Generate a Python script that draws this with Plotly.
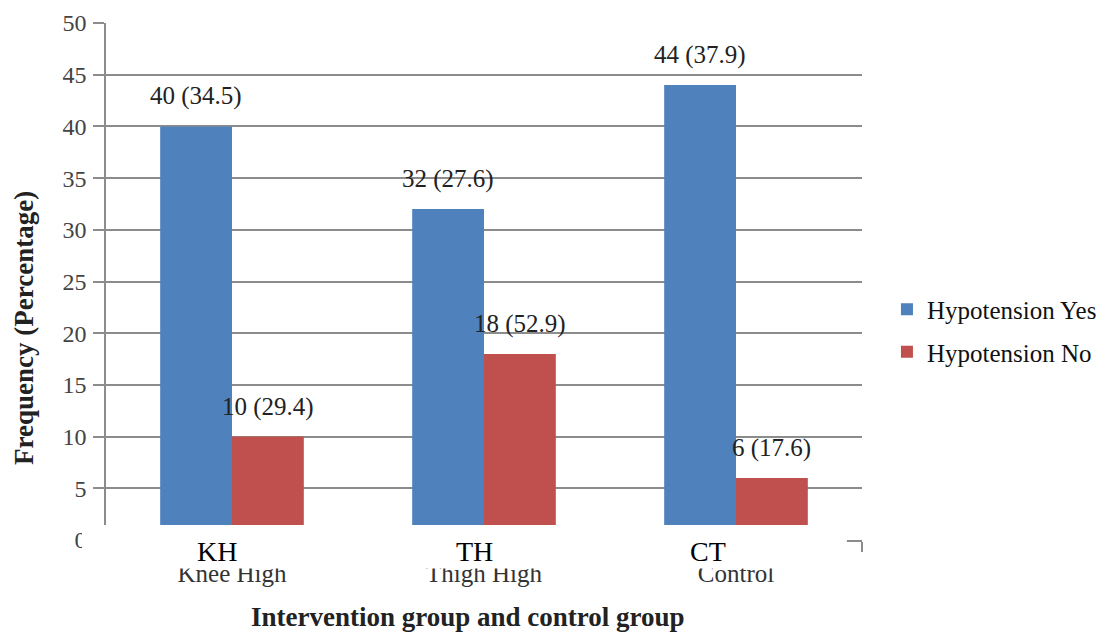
import plotly.graph_objects as go

categories = ["Knee High", "Thigh High", "Control"]
abbreviations = ["KH", "TH", "CT"]
series_names = ["Hypotension Yes", "Hypotension No"]
yes_counts = [40, 32, 44]
yes_pct = [34.5, 27.6, 37.9]
no_counts = [10, 18, 6]
no_pct = [29.4, 52.9, 17.6]
y_ticks = [0, 5, 10, 15, 20, 25, 30, 35, 40, 45, 50]

FONT = "Liberation Serif"
BLUE = "#4F81BD"
RED = "#C0504D"
GRID = "#8C8C8C"

fig = go.Figure()
fig.add_trace(go.Bar(name=series_names[0], x=categories, y=yes_counts, legendgroup="g1",
                     marker=dict(color=BLUE, line=dict(width=0)), offsetgroup="a"))
fig.add_trace(go.Bar(name=series_names[1], x=categories, y=no_counts, legendgroup="g2",
                     marker=dict(color=RED, line=dict(width=0)), offsetgroup="b"))

annotations = []
for vals, pcts, shift in [(yes_counts, yes_pct, -0.1428), (no_counts, no_pct, 0.1428)]:
    for i, (v, p) in enumerate(zip(vals, pcts)):
        annotations.append(dict(x=i + shift, y=v, xref="x", yref="y",
                                text=f"{v} ({p})", showarrow=False,
                                yanchor="bottom", yshift=14,
                                font=dict(family=FONT, size=25, color="#222222")))

# white patch covering the bottom of the chart (as in the reference)
shapes = [dict(type="rect", xref="paper", yref="paper", layer="above",
               x0=-0.0317, x1=0.980, y0=0.029, y1=-0.055,
               fillcolor="white", line=dict(width=0))]

abbr_x = [0.1468, 0.4868, 0.7963]
for ax_, t in zip(abbr_x, abbreviations):
    annotations.append(dict(x=ax_, y=-0.0232, xref="paper", yref="paper",
                            text=t, showarrow=False, xanchor="center", yanchor="middle",
                            font=dict(family=FONT, size=28, color="black")))

annotations.append(dict(x=(468 - 106) / 756, y=(540 - 617) / 517, xref="paper", yref="paper",
                        text="<b>Intervention group and control group</b>", showarrow=False,
                        xanchor="center", yanchor="middle",
                        font=dict(family=FONT, size=27, color="#222222")))
annotations.append(dict(x=(24 - 106) / 756, y=(540 - 328) / 517, xref="paper", yref="paper",
                        text="<b>Frequency (Percentage)</b>", showarrow=False, textangle=-90,
                        xanchor="center", yanchor="middle",
                        font=dict(family=FONT, size=27, color="#222222")))

fig.update_layout(
    width=1116, height=635,
    margin=dict(l=106, r=254, t=23, b=95, autoexpand=False),
    paper_bgcolor="white", plot_bgcolor="white",
    barmode="group", bargap=0.43, bargroupgap=0,
    font=dict(family=FONT, size=24, color="#333333"),
    showlegend=True,
    legend=dict(x=1.033, y=0.405, xanchor="left", yanchor="middle",
                font=dict(family=FONT, size=25, color="#111111"),
                itemwidth=30, tracegroupgap=7, bgcolor="rgba(0,0,0,0)"),
    xaxis=dict(type="category", showline=True, linecolor=GRID, linewidth=1.5,
               ticks="outside", tickson="boundaries", ticklen=10, tickcolor=GRID,
               tickwidth=1.5, ticklabelstandoff=10,
               tickfont=dict(family=FONT, size=25, color="#333333"),
               showgrid=False, range=[-0.5, 2.5]),
    yaxis=dict(range=[0, 50], tickvals=y_ticks, showline=True, linecolor=GRID,
               linewidth=1.5, ticks="outside", ticklen=11, tickcolor=GRID,
               tickwidth=1.5, showgrid=True, gridcolor=GRID, gridwidth=1.5,
               zeroline=False, ticklabelstandoff=2,
               tickfont=dict(family=FONT, size=24, color="#444444")),
    annotations=annotations, shapes=shapes,
)

fig.write_html("out.html")
